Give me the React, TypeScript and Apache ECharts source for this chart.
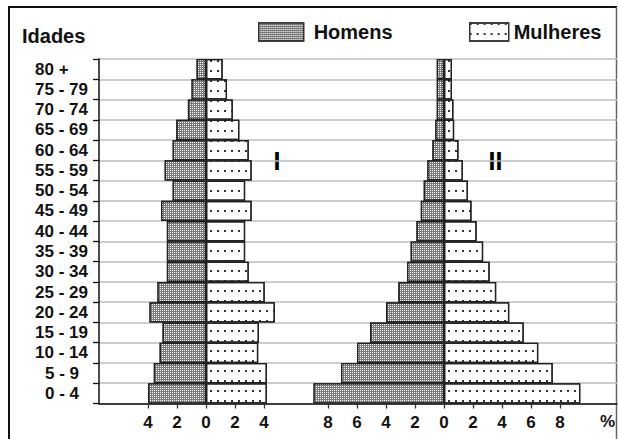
import React, { useEffect, useRef } from 'react';
import * as echarts from 'echarts';

const ageGroups = ['0 - 4', '5 - 9', '10 - 14', '15 - 19', '20 - 24', '25 - 29', '30 - 34', '35 - 39', '40 - 44', '45 - 49', '50 - 54', '55 - 59', '60 - 64', '65 - 69', '70 - 74', '75 - 79', '80 +'];
const menI = [4.0, 3.6, 3.2, 3.0, 3.9, 3.35, 2.7, 2.7, 2.7, 3.1, 2.3, 2.85, 2.3, 2.05, 1.25, 1.0, 0.65];
const womenI = [4.2, 4.2, 3.6, 3.65, 4.75, 4.05, 2.95, 2.7, 2.7, 3.15, 2.7, 3.15, 2.95, 2.3, 1.85, 1.45, 1.15];
const menII = [9.0, 7.1, 6.0, 5.1, 4.0, 3.15, 2.55, 2.3, 1.9, 1.6, 1.4, 1.15, 0.8, 0.6, 0.5, 0.5, 0.5];
const womenII = [9.4, 7.5, 6.5, 5.5, 4.5, 3.6, 3.15, 2.7, 2.25, 1.9, 1.65, 1.3, 1.0, 0.7, 0.65, 0.55, 0.55];
const ticksI = [-4, -2, 0, 2, 4];
const ticksII = [-8, -6, -4, -2, 0, 2, 4, 6, 8];

const FONT = '"Liberation Sans", Arial, sans-serif';

export default function App() {
  const ref = useRef<HTMLDivElement>(null);
  useEffect(() => {
    document.body.style.margin = '0';
    const chart = echarts.init(ref.current!, null, { renderer: 'svg' });
    const maleStyle = {
      color: '#7a7a7a', borderColor: '#222', borderWidth: 1.3,
      decal: { symbol: 'rect', symbolSize: 1, color: '#ffffff', dashArrayX: [1, 1], dashArrayY: [1, 1], rotation: 0 },
    };
    const femaleStyle = {
      color: '#ffffff', borderColor: '#222', borderWidth: 1.3,
      decal: { symbol: 'rect', symbolSize: 1, color: '#333333', dashArrayX: [1.5, 4.5], dashArrayY: [1.5, 8], rotation: 0 },
    };
    const labelText = { fontSize: 17, fontWeight: 'bold' as const, color: '#111', fontFamily: FONT };
    const valueAxis = (grid: number, min: number, max: number, ticks: number[]) => ({
      gridIndex: grid, type: 'value', min, max,
      axisLine: { show: false },
      axisTick: { show: true, customValues: ticks, length: 5, lineStyle: { color: '#333', width: 1.3 } },
      axisLabel: { customValues: ticks, formatter: (v: number) => String(Math.abs(v)), margin: 10, ...labelText },
      splitLine: { show: false },
    });
    const hiddenCat = (grid: number) => ({ gridIndex: grid, type: 'category', data: ageGroups, show: false });
    const bar = (name: string, idx: number, stack: string, data: number[], style: any) => ({
      type: 'bar', name, xAxisIndex: idx, yAxisIndex: idx, stack, barWidth: '100%', data, itemStyle: style,
    });
    chart.setOption({
      animation: false,
      title: { text: 'Idades', left: 22, top: 26, padding: 0, textStyle: { fontSize: 20, fontWeight: 'bold', color: '#111', fontFamily: FONT } },
      legend: [
        { data: ['Homens'], left: 258, top: 22, padding: 0, itemWidth: 45, itemHeight: 18, icon: 'rect', selectedMode: false,
          itemStyle: { borderColor: '#333', borderWidth: 1.3 },
          textStyle: { fontSize: 20, fontWeight: 'bold', color: '#111', fontFamily: FONT, padding: [0, 0, 0, 5] } },
        { data: ['Mulheres'], left: 469, top: 22, padding: 0, itemWidth: 39, itemHeight: 18, icon: 'rect', selectedMode: false,
          itemStyle: { borderColor: '#333', borderWidth: 1.3 },
          textStyle: { fontSize: 20, fontWeight: 'bold', color: '#111', fontFamily: FONT } },
      ],
      grid: [
        { left: 99, top: 59, width: 518, height: 344.5 },
        { left: 119, top: 59, width: 174, height: 344.5 },
        { left: 299, top: 59, width: 290, height: 344.5 },
      ],
      xAxis: [
        { gridIndex: 0, type: 'value', min: 0, max: 1, axisLine: { show: true, lineStyle: { color: '#111', width: 1.5 } },
          axisTick: { show: false }, axisLabel: { show: false }, splitLine: { show: false } },
        valueAxis(1, -6, 6, ticksI),
        valueAxis(2, -10, 10, ticksII),
      ],
      yAxis: [
        { gridIndex: 0, type: 'category', data: ageGroups,
          axisLine: { show: true, lineStyle: { color: '#111', width: 1.5 } },
          axisTick: { show: true, interval: 0, length: 6, lineStyle: { color: '#111', width: 1.3 } },
          axisLabel: {
            interval: 0, align: 'left', margin: 64, ...labelText,
            formatter: (v: string) => (/^\d /.test(v) ? `{s|${v}}` : `{n|${v}}`),
            rich: { n: { ...labelText }, s: { ...labelText, padding: [0, 0, 0, 10] } },
          },
          splitLine: { show: true, interval: 0, lineStyle: { color: '#bdbdbd', width: 1.5 } } },
        hiddenCat(1),
        hiddenCat(2),
      ],
      series: [
        bar('Homens', 1, 'I', menI.map((v) => -v), maleStyle),
        bar('Mulheres', 1, 'I', womenI, femaleStyle),
        bar('Homens', 2, 'II', menII.map((v) => -v), maleStyle),
        bar('Mulheres', 2, 'II', womenII, femaleStyle),
      ],
      graphic: [
        { type: 'polyline', shape: { points: [[9, 439], [9, 7], [617, 7]] }, style: { stroke: '#111', lineWidth: 2, fill: 'none' } },
        { type: 'line', shape: { x1: 616.5, y1: 7, x2: 616.5, y2: 439 }, style: { stroke: '#666', lineWidth: 1.5 } },
        { type: 'text', x: 277, y: 161, style: { text: 'I', font: `bold 25px ${FONT}`, fill: '#000', textAlign: 'center', textVerticalAlign: 'middle' } },
        { type: 'text', x: 495.5, y: 161, style: { text: 'II', font: `bold 25px ${FONT}`, fill: '#000', textAlign: 'center', textVerticalAlign: 'middle' } },
        { type: 'text', x: 600, y: 421, style: { text: '%', font: `bold 17px ${FONT}`, fill: '#111', textAlign: 'left', textVerticalAlign: 'middle' } },
      ],
    });
    return () => chart.dispose();
  }, []);
  return <div ref={ref} style={{ width: 618, height: 439 }} />;
}
